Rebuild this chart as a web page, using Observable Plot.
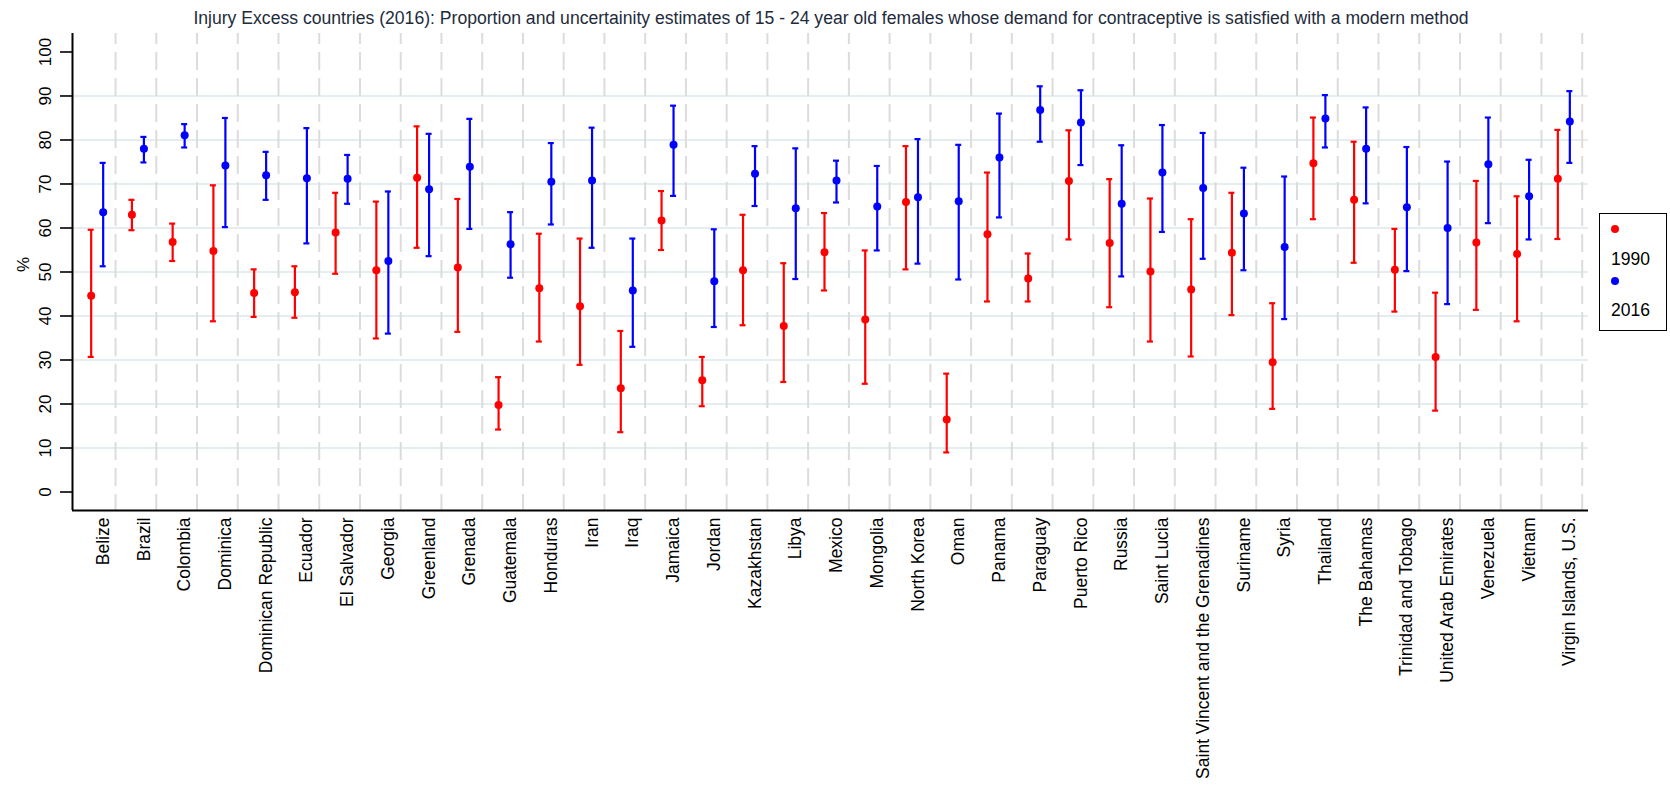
<!DOCTYPE html>
<html>
<head>
<meta charset="utf-8">
<script src="https://cdn.jsdelivr.net/npm/d3@7"></script>
<script src="https://cdn.jsdelivr.net/npm/@observablehq/plot@0.6"></script>
<style>
  html, body { margin: 0; padding: 0; background: #fff; }
  #wrap { position: relative; width: 1670px; height: 790px; font-family: "Liberation Sans", Arial, sans-serif; }
  #title { height: 30px; box-sizing: border-box; padding-top: 10px; width: 1662px; text-align: center;
           font-size: 17.6px; line-height: 17px; color: #1e2b3c; white-space: nowrap; }
  #legend { position: absolute; left: 1599px; top: 213px; width: 66px; height: 116px; border: 1.5px solid #000; box-sizing: content-box; }
  #legend .dot { position: absolute; width: 8px; height: 8px; border-radius: 50%; }
  #legend .lab { position: absolute; font-size: 17.5px; line-height: 18px; color: #000; }
</style>
</head>
<body>
<div id="wrap">
  <div id="title">Injury Excess countries (2016): Proportion and uncertainity estimates of 15 - 24 year old females whose demand for contraceptive is satisfied with a modern method</div>
  <div id="chart"></div>
  <div id="legend"></div>
</div>
<script>
const countries = ["Belize","Brazil","Colombia","Dominica","Dominican Republic","Ecuador","El Salvador","Georgia","Greenland","Grenada","Guatemala","Honduras","Iran","Iraq","Jamaica","Jordan","Kazakhstan","Libya","Mexico","Mongolia","North Korea","Oman","Panama","Paraguay","Puerto Rico","Russia","Saint Lucia","Saint Vincent and the Grenadines","Suriname","Syria","Thailand","The Bahamas","Trinidad and Tobago","United Arab Emirates","Venezuela","Vietnam","Virgin Islands, U.S."];

const years = ["1990", "2016"];

const val1990 = [44.6,63.0,56.8,54.8,45.2,45.4,59.0,50.4,71.4,51.0,19.8,46.3,42.2,23.6,61.7,25.4,50.4,37.7,54.5,39.2,65.9,16.5,58.6,48.5,70.7,56.6,50.1,46.0,54.4,29.5,74.7,66.4,50.5,30.7,56.7,54.1,71.2];
const lo1990  = [30.7,59.5,52.5,38.8,39.8,39.6,49.6,34.9,55.5,36.4,14.2,34.2,28.9,13.6,55.0,19.5,37.9,25.0,45.8,24.6,50.6,9.0,43.3,43.3,57.4,42.0,34.2,30.8,40.2,18.9,62.0,52.1,41.0,18.5,41.4,38.8,57.5];
const hi1990  = [59.6,66.4,61.0,69.7,50.6,51.3,68.0,66.0,83.1,66.6,26.1,58.7,57.6,36.6,68.4,30.7,63.0,52.0,63.4,54.9,78.6,26.9,72.6,54.2,82.2,71.1,66.7,62.0,68.0,42.9,85.1,79.6,59.8,45.3,70.7,67.2,82.3];

const val2016 = [63.6,78.0,81.1,74.2,72.0,71.3,71.2,52.5,68.8,73.9,56.3,70.5,70.8,45.8,78.9,47.9,72.3,64.5,70.8,64.9,67.0,66.1,76.0,86.8,84.0,65.5,72.6,69.1,63.3,55.7,84.9,78.0,64.7,60.0,74.5,67.2,84.2];
const lo2016  = [51.3,74.9,78.3,60.2,66.4,56.5,65.5,36.0,53.6,59.8,48.7,60.8,55.5,33.0,67.3,37.5,65.0,48.4,65.8,54.9,51.9,48.3,62.4,79.6,74.3,49.0,59.1,53.0,50.4,39.3,78.3,65.6,50.2,42.7,61.1,57.4,74.8];
const hi2016  = [74.8,80.7,83.6,85.0,77.3,82.7,76.6,68.3,81.4,84.8,63.6,79.3,82.8,57.6,87.8,59.7,78.6,78.1,75.3,74.1,80.2,78.9,86.0,92.2,91.3,78.8,83.4,81.6,73.7,71.7,90.2,87.4,78.4,75.1,85.1,75.5,91.1];

const yTicks = [0,10,20,30,40,50,60,70,80,90,100];
const gridTicks = [10,20,30,40,50,60,70,80,90];

const colors = {"1990": "#ff0000", "2016": "#0000ff"};

const rows1990 = countries.map((c, i) => ({country: c, value: val1990[i], lo: lo1990[i], hi: hi1990[i]}));
const rows2016 = countries.map((c, i) => ({country: c, value: val2016[i], lo: lo2016[i], hi: hi2016[i]}));

const W = 1670, H = 760;
const ml = 72, mr = 82, mt = 3, mb = 280;
const insL = 2.3, insR = 6.3;
const bw = (W - ml - mr - insL - insR) / countries.length;
const off = {"1990": -4, "2016": 8};
const capInset = (bw - 6) / 2;
const yDomain = [-4.2, 104.2];

function series(rows, year) {
  const c = colors[year], dx = off[year];
  return [
    Plot.ruleX(rows, {x: "country", y1: "lo", y2: "hi", dx, stroke: c, strokeWidth: 2.2}),
    Plot.tickY(rows, {x: "country", y: "lo", dx, stroke: c, strokeWidth: 2.2, insetLeft: capInset, insetRight: capInset}),
    Plot.tickY(rows, {x: "country", y: "hi", dx, stroke: c, strokeWidth: 2.2, insetLeft: capInset, insetRight: capInset}),
    Plot.dot(rows, {x: "country", y: "value", dx, r: 4, fill: c, stroke: "none"})
  ];
}

const chart = Plot.plot({
  width: W, height: H,
  marginLeft: ml, marginRight: mr, marginTop: mt, marginBottom: mb,
  style: {fontFamily: '"Liberation Sans", Arial, sans-serif', fontSize: "17.5px", color: "#000", background: "#fff", overflow: "visible"},
  x: {type: "band", domain: countries, padding: 0, round: false, insetLeft: insL, insetRight: insR},
  y: {domain: yDomain},
  marks: [
    Plot.ruleY(gridTicks, {stroke: "#e6edf0", strokeWidth: 2}),
    Plot.ruleX(countries, {x: d => d, dx: bw / 2, stroke: "#dcdcdc", strokeWidth: 2, strokeDasharray: "18,8", strokeDashoffset: 7}),
    ...series(rows1990, "1990"),
    ...series(rows2016, "2016"),
    Plot.ruleY([yDomain[0]], {stroke: "#000", strokeWidth: 2}),
    Plot.ruleX([countries[0]], {x: d => d, dx: -(bw / 2 + insL), stroke: "#000", strokeWidth: 2}),
    Plot.axisX({tickSize: 0, tickPadding: 7, tickRotate: -90, textAnchor: "end", lineAnchor: "middle", dx: 8, fontSize: 17.5, fill: "#000", label: null}),
    Plot.axisY(yTicks, {tickSize: 12, tickPadding: 15, tickRotate: -90, textAnchor: "middle", lineAnchor: "middle", fontSize: 17, fill: "#000", stroke: "#000", strokeWidth: 1.6, label: null}),
    Plot.text(["%"], {frameAnchor: "left", dx: -49, rotate: -90, fontSize: 17, fill: "#000"})
  ]
});
document.getElementById("chart").appendChild(chart);

const legend = document.getElementById("legend");
const legendItems = [
  {year: years[0], dotTop: 10.5, labTop: 36},
  {year: years[1], dotTop: 62.5, labTop: 87}
];
for (const it of legendItems) {
  const d = document.createElement("div");
  d.className = "dot";
  d.style.left = "11px"; d.style.top = it.dotTop + "px";
  d.style.background = colors[it.year];
  legend.appendChild(d);
  const t = document.createElement("div");
  t.className = "lab";
  t.style.left = "11px"; t.style.top = it.labTop + "px";
  t.textContent = it.year;
  legend.appendChild(t);
}
</script>
</body>
</html>
